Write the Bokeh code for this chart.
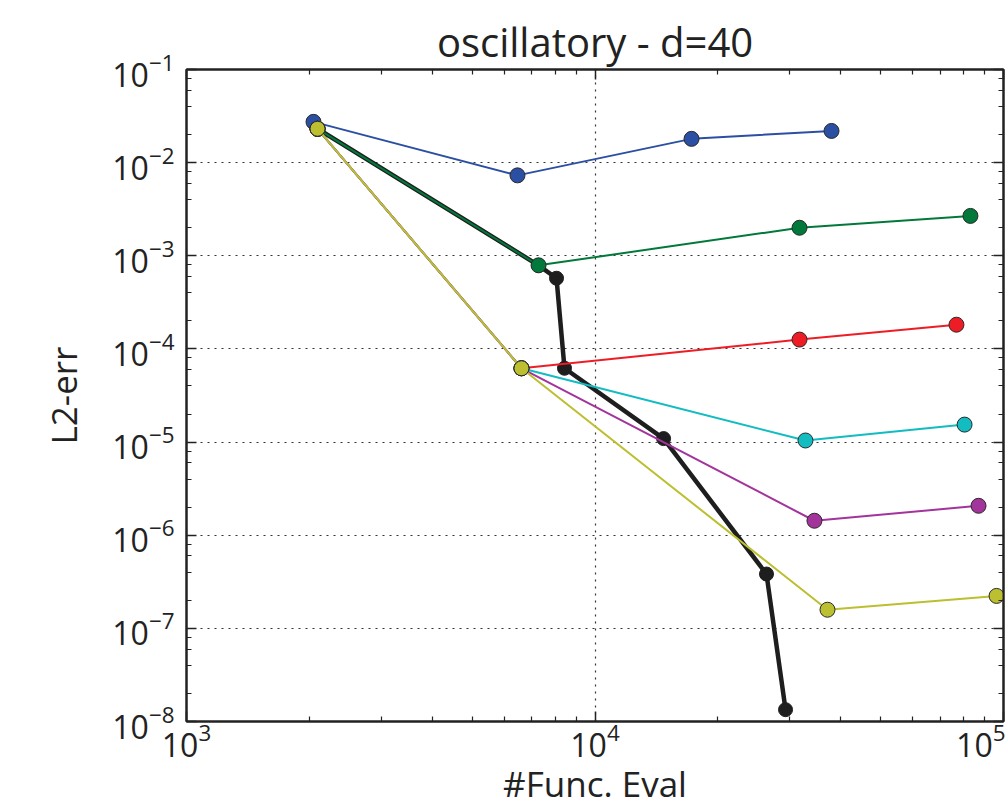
from bokeh.plotting import figure
from bokeh.models import Range1d, FixedTicker, LogAxis, CustomJSTickFormatter
from bokeh.embed import file_html
from bokeh.resources import INLINE

# ---- data ----
blue_x = [2046, 6460, 17230, 37930]
blue_y = [0.0274, 0.0073, 0.0180, 0.0219]

green_x = [2093, 7274, 31670, 83000]
green_y = [0.0231, 7.9e-4, 2.0e-3, 2.68e-3]

red_x = [2093, 6607, 31670, 76700]
red_y = [0.0231, 6.2e-5, 1.26e-4, 1.82e-4]

cyan_x = [2093, 6607, 32750, 80300]
cyan_y = [0.0231, 6.2e-5, 1.04e-5, 1.54e-5]

magenta_x = [2093, 6607, 34450, 86870]
magenta_y = [0.0231, 6.2e-5, 1.43e-6, 2.07e-6]

yellow_x = [2093, 6607, 37080, 96150]
yellow_y = [0.0231, 6.2e-5, 1.585e-7, 2.23e-7]

black_x = [2093, 7274, 8050, 8420, 14720, 26290, 29270]
black_y = [0.0231, 7.9e-4, 5.74e-4, 6.2e-5, 1.09e-5, 3.83e-7, 1.34e-8]

x_major = [1e3, 1e4, 1e5]
x_minor = [m * 10**k for k in (3, 4) for m in range(2, 10)]
y_major = [10.0**k for k in range(-8, 0)]
y_minor = [m * 10.0**k for k in range(-8, -1) for m in (2, 4, 6, 8)]

FONT = "Open Sans"
TXT = "#222222"

p = figure(width=1005, height=809, x_axis_type="log", y_axis_type="log",
           x_range=Range1d(1e3, 1e5), y_range=Range1d(1e-8, 1e-1),
           output_backend="svg", toolbar_location=None,
           title="oscillatory - d=40",
           min_border_left=186, min_border_right=2, min_border_top=69,
           min_border_bottom=0)

p.title.align = "center"
p.title.text_font = FONT
p.title.text_font_size = "40px"
p.title.text_font_style = "normal"
p.title.text_color = TXT
p.title.standoff = 2

xt = FixedTicker(ticks=x_major, minor_ticks=x_minor)
yt = FixedTicker(ticks=y_major, minor_ticks=y_minor)

p.xaxis.ticker = xt
p.yaxis.ticker = yt
p.xaxis.axis_label = "#Func. Eval"
p.yaxis.axis_label = "L2-err"

for ax in (p.xaxis[0], p.yaxis[0]):
    ax.axis_label_text_font = FONT
    ax.axis_label_text_font_size = "35px"
    ax.axis_label_text_font_style = "normal"
    ax.axis_label_text_color = TXT
    ax.major_label_text_font = FONT
    ax.major_label_text_font_size = "32px"
    ax.major_label_text_color = TXT
    ax.major_tick_in = 10
    ax.major_tick_out = 0
    ax.minor_tick_in = 5
    ax.minor_tick_out = 0
    ax.axis_line_width = 2
    ax.axis_line_color = TXT
    ax.major_tick_line_color = TXT
    ax.minor_tick_line_color = TXT
    ax.major_tick_line_width = 1.5
    ax.minor_tick_line_width = 1.2

p.xaxis.major_label_standoff = 1
p.xaxis.axis_label_standoff = 0
p.yaxis.major_label_standoff = 12
p.yaxis.axis_label_standoff = 22

# ticks on top and right spines (no labels)
blank = CustomJSTickFormatter(code="return ''")
for loc, tk in (("above", xt), ("right", yt)):
    ax = LogAxis(ticker=tk, formatter=blank, major_label_text_font_size="1px",
                 major_label_standoff=0, major_tick_in=10, major_tick_out=0,
                 minor_tick_in=5, minor_tick_out=0, axis_line_width=2,
                 axis_line_color=TXT, major_tick_line_color=TXT,
                 minor_tick_line_color=TXT, major_tick_line_width=1.5,
                 minor_tick_line_width=1.2)
    p.add_layout(ax, loc)

p.grid.grid_line_color = "#333333"
p.grid.grid_line_dash = "2 5"
p.grid.grid_line_width = 1.2
p.outline_line_color = TXT
p.outline_line_width = 2
p.background_fill_color = "white"
p.border_fill_color = "white"

EDGE = "#2a2a2a"

# black (thick) drawn first
p.line(black_x, black_y, line_color="#1e1e1e", line_width=4.5)
p.scatter(black_x, black_y, size=14, fill_color="#1e1e1e", line_color="#1e1e1e")

series = [
    (blue_x, blue_y, "#2b4fa2"),
    (green_x, green_y, "#00793a"),
    (red_x, red_y, "#ee1d25"),
    (cyan_x, cyan_y, "#12bcc0"),
    (magenta_x, magenta_y, "#a2349c"),
    (yellow_x, yellow_y, "#bcbf30"),
]
for xs, ys, col in series:
    p.line(xs, ys, line_color=col, line_width=2)
    p.scatter(xs, ys, size=15, fill_color=col, line_color=EDGE, line_width=1)

open("out.html", "w").write(file_html(p, INLINE))
